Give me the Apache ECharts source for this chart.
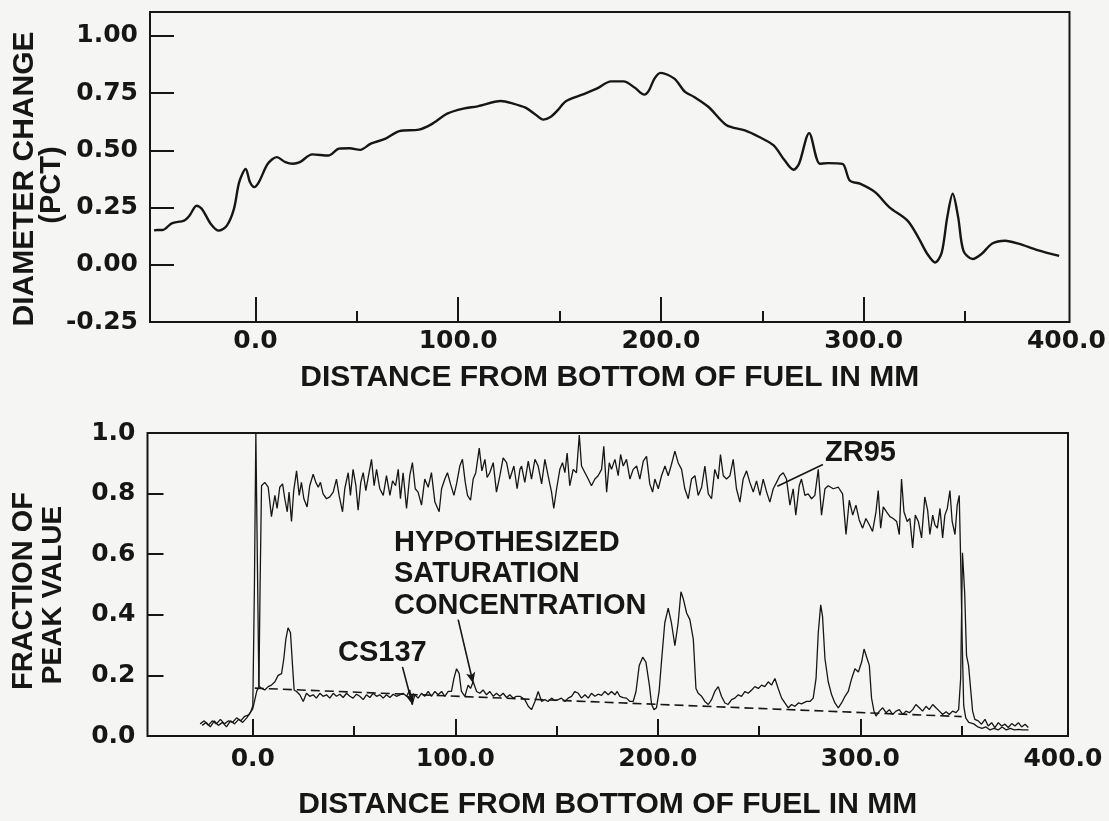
<!DOCTYPE html>
<html>
<head>
<meta charset="utf-8">
<script src="https://cdn.jsdelivr.net/npm/echarts@6/dist/echarts.min.js"></script>
<style>
html,body{margin:0;padding:0;background:#f5f5f3;}
#chart{width:1109px;height:821px;}
</style>
</head>
<body>
<div id="chart"></div>
<script>
// ---------- DATA ----------
// Top panel: diameter change (pct) vs distance from bottom of fuel (mm)
const diameterChange = [
[-50,0.150],[-48.4,0.152],[-45.7,0.152],[-41.3,0.181],[-35.2,0.193],[-32.5,0.215],[-29,0.258],[-26.4,0.244],[-22,0.178],[-18.1,0.149],[-14.1,0.171],[-10.6,0.244],[-8,0.361],[-4.8,0.419],[-2.7,0.361],[-0.6,0.339],[1.7,0.361],[6.1,0.441],[10.5,0.470],[14.8,0.448],[18.4,0.441],[21.9,0.448],[28,0.482],[35.9,0.477],[41.2,0.507],[46.4,0.509],[51.7,0.502],[56.9,0.529],[63.9,0.550],[71,0.584],[80.6,0.590],[86.7,0.613],[94.6,0.660],[102.5,0.682],[109.6,0.692],[121,0.715],[127.1,0.704],[133.2,0.686],[137.6,0.660],[142,0.634],[145.5,0.645],[149,0.674],[153.1,0.714],[161.2,0.743],[168.3,0.769],[175.4,0.801],[181.6,0.801],[187,0.774],[191.8,0.743],[194.1,0.762],[196.8,0.813],[199.8,0.838],[206.6,0.813],[211.9,0.755],[216.4,0.733],[223.5,0.689],[232.4,0.609],[241.4,0.587],[248.5,0.558],[255.6,0.521],[261,0.456],[265.4,0.415],[268.1,0.441],[273.1,0.575],[278.4,0.441],[282.4,0.444],[289.5,0.441],[293.1,0.368],[298.4,0.353],[305.6,0.317],[312.7,0.251],[321.6,0.193],[326.9,0.120],[331.4,0.047],[335.3,0.010],[338.5,0.054],[341.2,0.207],[343.9,0.310],[346.6,0.207],[349.2,0.061],[353.7,0.025],[358.1,0.047],[363.4,0.093],[369.7,0.105],[376.8,0.091],[385.7,0.064],[396.4,0.039]
];

// Bottom panel: ZR95 fraction of peak value
const zr95 = [
[-25,0.035],[-23,0.045],[-21,0.03],[-19,0.05],[-17,0.035],[-15,0.045],[-13,0.03],[-11,0.05],[-9,0.04],[-7,0.055],[-5,0.045],[-3,0.06],[-1.5,0.075],[0,0.09],[1,0.12],[2,0.15],[3,0.16],[3.6,0.5],
[4.3,0.826],[5.9,0.837],[7.6,0.821],[9.2,0.724],[10.9,0.794],[12.0,0.751],[13.3,0.821],[14.7,0.832],[15.8,0.783],[17.0,0.740],[17.9,0.805],[19.1,0.708],[20.2,0.810],[21.6,0.875],[22.9,0.794],[24.0,0.837],[25.2,0.783],[26.8,0.756],[28.1,0.826],[29.8,0.864],[31.1,0.837],[32.3,0.821],[33.4,0.837],[34.7,0.799],[36.4,0.783],[38.0,0.789],[39.7,0.805],[41.3,0.848],[42.6,0.794],[44.3,0.740],[45.4,0.816],[47.1,0.869],[48.2,0.794],[49.5,0.880],[50.9,0.826],[52.0,0.745],[53.3,0.837],[54.5,0.869],[55.8,0.810],[57.4,0.869],[58.6,0.913],[59.9,0.826],[61.1,0.880],[62.7,0.816],[64.4,0.794],[66.0,0.859],[67.7,0.794],[69.0,0.842],[70.5,0.826],[71.8,0.880],[72.9,0.783],[74.2,0.869],[75.9,0.751],[77.5,0.859],[78.8,0.902],[80.2,0.816],[81.6,0.805],[83.3,0.762],[84.9,0.848],[86.6,0.821],[88.2,0.869],[89.9,0.772],[92.0,0.740],[93.2,0.816],[94.8,0.848],[96.1,0.869],[97.6,0.832],[99.3,0.794],[100.6,0.832],[102.2,0.891],[103.5,0.913],[104.9,0.837],[106.0,0.794],[107.5,0.778],[108.8,0.848],[110.1,0.869],[111.8,0.950],[113.1,0.875],[114.6,0.913],[115.7,0.853],[117.0,0.869],[118.7,0.902],[120.3,0.805],[122.0,0.859],[123.6,0.918],[125.3,0.902],[126.9,0.848],[128.9,0.891],[130.5,0.816],[131.9,0.880],
[132.7,0.891],[134.3,0.837],[136.0,0.907],[137.6,0.848],[139.3,0.913],[140.9,0.891],[142.6,0.832],[144.2,0.913],[145.8,0.859],[147.5,0.805],[148.6,0.751],[150.0,0.816],[151.6,0.880],[152.9,0.902],[154.1,0.869],[155.2,0.934],[156.5,0.826],[158.2,0.880],[159.8,0.869],[161.2,0.993],[162.3,0.891],[164.0,0.869],[165.6,0.848],[167.2,0.826],[168.9,0.848],[170.5,0.859],[172.2,0.880],[173.3,0.956],[174.7,0.805],[176.0,0.902],[177.1,0.880],[178.8,0.913],[180.4,0.859],[181.6,0.929],[182.9,0.891],[184.5,0.913],[186.2,0.848],[187.8,0.880],[189.5,0.891],[191.1,0.848],[192.8,0.907],[194.4,0.923],[196.0,0.832],[197.4,0.805],[198.5,0.848],[200.2,0.816],[201.8,0.859],[203.5,0.891],[205.1,0.859],[206.7,0.896],[208.4,0.940],[210.0,0.902],[211.7,0.880],[213.3,0.816],[215.0,0.783],[216.6,0.848],[218.3,0.859],[219.9,0.794],[221.6,0.821],[223.2,0.891],[224.9,0.799],[226.5,0.783],[228.1,0.880],[229.8,0.848],[230.9,0.929],[232.3,0.859],[233.9,0.848],[235.6,0.859],[237.2,0.913],[238.8,0.816],[240.5,0.772],[242.1,0.848],[243.8,0.875],[245.4,0.837],[247.1,0.805],[248.7,0.842],[250.4,0.794],[252.0,0.848],[253.7,0.805],[255.3,0.772],[256.95,0.816],[258.6,0.837],[260.2,0.859],[261.9,0.869],[263.5,0.848],[265.2,0.762],[266.8,0.816],[268.1,0.729],[269.8,0.826],
[270.9,0.848],[272.6,0.794],[274.2,0.799],[275.9,0.783],[277.5,0.794],[279.2,0.880],[280.8,0.729],[282.5,0.816],[284.1,0.826],[286.6,0.816],[289.1,0.821],[291.2,0.799],[292.9,0.665],[294.5,0.778],[296.2,0.729],[297.8,0.762],[299.4,0.713],[301.1,0.686],[302.7,0.718],[304.4,0.697],[306.0,0.675],[307.7,0.740],[308.8,0.810],[310.0,0.686],[311.3,0.756],[312.9,0.740],[314.6,0.724],[316.2,0.718],[317.9,0.708],[319.2,0.665],[320.3,0.848],[321.5,0.740],[323.1,0.708],[324.4,0.718],[325.8,0.621],[327.1,0.729],[328.6,0.708],[330.2,0.654],[331.8,0.789],[333.2,0.745],[334.3,0.665],[335.7,0.729],[336.8,0.697],[338.0,0.686],[339.3,0.751],[340.6,0.654],[341.7,0.729],[342.9,0.751],[344.2,0.810],[345.3,0.708],[346.7,0.665],[347.8,0.762],[348.8,0.794],
[349.6,0.55],[350.3,0.3],[351.0,0.1],[352,0.06],[353.5,0.045],[356,0.04],[358,0.03],[360,0.025],[362,0.03],[364,0.02],[366,0.025],[368,0.02],[370,0.03],[372,0.02],[374,0.025],[376,0.02],[378,0.022],[380,0.02],[383,0.02]
];

// Bottom panel: CS137 fraction of peak value
const cs137 = [
[-26,0.04],[-24,0.05],[-22,0.035],[-20,0.05],[-18,0.04],[-16,0.055],[-14,0.04],[-12,0.05],[-10,0.045],[-8,0.06],[-6,0.05],[-4,0.065],[-2,0.07],[-1,0.08],[0,0.1],[0.8,0.5],[1.5,1.0],[2.3,0.55],[3,0.165],
[4.3,0.157],[5.9,0.152],[7.6,0.163],[9.2,0.168],[10.9,0.179],[12.5,0.2],[14.2,0.206],[15.3,0.255],[16.3,0.319],[17.4,0.357],[18.6,0.341],[19.6,0.233],[20.4,0.152],[21.6,0.147],[23.2,0.136],[24.9,0.114],[26.5,0.141],[28.1,0.131],[29.8,0.136],[31.4,0.125],[33.1,0.141],[34.7,0.131],[36.4,0.136],[38.0,0.125],[39.7,0.141],[41.3,0.131],[43.0,0.138],[44.6,0.127],[46.3,0.141],[47.9,0.131],[49.5,0.125],[51.2,0.138],[52.8,0.131],[54.5,0.12],[56.1,0.136],[57.8,0.127],[59.4,0.141],[61.1,0.131],[62.7,0.136],[64.4,0.125],[66.0,0.136],[67.7,0.127],[69.3,0.138],[70.9,0.131],[72.6,0.136],[74.2,0.141],[75.9,0.131],[77.5,0.152],[78.7,0.104],[80.0,0.136],[81.6,0.125],[83.3,0.141],[84.9,0.131],[86.6,0.147],[88.2,0.131],[89.9,0.147],[91.5,0.136],[93.2,0.147],[94.8,0.131],[96.5,0.147],[98.1,0.147],[99.3,0.19],[100.6,0.222],[101.9,0.206],[103.0,0.147],[104.7,0.131],[106.3,0.168],[107.5,0.157],[108.8,0.179],[110.5,0.147],[112.1,0.141],[113.7,0.152],[115.4,0.136],[117.0,0.147],[118.7,0.131],[120.3,0.141],[122.0,0.131],[123.6,0.141],[125.3,0.127],[126.9,0.136],[128.6,0.125],[130.2,0.131],[131.9,0.131],
[134.3,0.12],[136.0,0.098],[137.6,0.087],[139.3,0.114],[140.9,0.147],[142.6,0.114],[144.2,0.12],[145.8,0.114],[147.5,0.125],[149.1,0.117],[150.8,0.12],[152.4,0.125],[154.1,0.114],[155.7,0.125],[157.4,0.131],[159.0,0.147],[160.7,0.141],[162.3,0.125],[164.0,0.136],[165.6,0.125],[167.2,0.141],[168.9,0.131],[170.5,0.138],[172.2,0.134],[173.8,0.147],[175.5,0.136],[177.1,0.147],[178.8,0.136],[179.9,0.147],[181.2,0.131],[182.9,0.127],[184.5,0.125],[186.2,0.114],[187.8,0.114],[189.2,0.147],[190.8,0.233],[192.5,0.26],[194.1,0.244],[195.8,0.168],[196.9,0.104],[198.1,0.087],[199.3,0.093],[200.6,0.147],[201.9,0.255],[203.4,0.373],[205.1,0.422],[206.7,0.373],[208.4,0.298],[210.0,0.373],[211.4,0.476],[212.5,0.454],[214.2,0.406],[215.8,0.384],[217.5,0.319],[218.8,0.157],[219.9,0.141],[221.6,0.131],[223.2,0.114],[224.9,0.104],[226.5,0.12],[228.1,0.147],[229.8,0.163],[231.4,0.131],[233.1,0.109],[234.7,0.104],[236.4,0.12],[238.0,0.125],[239.7,0.136],[241.3,0.131],[243.0,0.147],[244.6,0.141],[246.3,0.152],[247.9,0.163],[249.6,0.157],[251.2,0.168],[252.8,0.163],[254.5,0.179],[256.1,0.168],[257.8,0.19],[258.6,0.195],[259.4,0.157],[261.1,0.125],[262.7,0.109],[264.4,0.093],[266.0,0.104],[267.7,0.098],[269.4,0.109],
[270.9,0.106],[273.4,0.114],[275.1,0.114],[276.7,0.125],[278.1,0.19],[279.2,0.341],[280.4,0.433],[281.3,0.395],[282.5,0.255],[284.1,0.179],[285.8,0.136],[287.4,0.109],[289.1,0.093],[290.7,0.109],[292.4,0.131],[294.0,0.147],[295.7,0.19],[297.3,0.222],[299.0,0.211],[300.6,0.244],[301.8,0.287],[303.1,0.26],[304.4,0.233],[305.5,0.125],[306.7,0.082],[307.7,0.066],[309.4,0.082],[311.0,0.093],[312.7,0.077],[314.3,0.087],[315.9,0.071],[317.6,0.082],[319.2,0.087],[320.9,0.071],[322.5,0.082],[324.2,0.077],[325.8,0.087],[327.4,0.104],[329.1,0.093],[330.7,0.082],[332.4,0.098],[334.0,0.087],[335.7,0.104],[337.3,0.093],[339.0,0.082],[340.6,0.071],[342.3,0.08],[343.9,0.071],[345.5,0.082],[347.2,0.077],[348.5,0.087],[349.5,0.19],[350.4,0.605],[351.5,0.47],[352.4,0.265],[353.4,0.233],[354.4,0.157],[355.4,0.082],[356.5,0.055],[358.2,0.05],[359.8,0.039],[361.5,0.055],[363.1,0.033],[364.8,0.044],[366.4,0.028],[368.1,0.044],[369.7,0.033],[371.4,0.039],[373.0,0.028],[374.7,0.041],[376.3,0.033],[378.0,0.044],[379.6,0.03],[381.3,0.039],[382.9,0.028]
];

// Hypothesized saturation concentration (straight dashed line)
const saturation = [[1,0.158],[350,0.064]];

// Leader lines for the annotations (data coordinates)
const zrLeader = [[281.5,0.896],[259,0.824]];
const csLeader = [[73.9,0.228],[78.8,0.104]];
const satLeader = [[101.4,0.384],[108.8,0.174]];

// Tick values
const topXLabels = [0,100,200,300,400];
const topXMajor = [0,100,200,300];
const topXMinor = [50,150,250,350];
const topYLabels = [-0.25,0,0.25,0.5,0.75,1.0];
const topYTicks = [0,0.25,0.5,0.75,1.0];
const botXLabels = [0,100,200,300,400];
const botXMajor = [0,100,200,300];
const botXMinor = [50,150,250,350];
const botYLabels = [0,0.2,0.4,0.6,0.8,1.0];
const botYTicks = [0.2,0.4,0.6,0.8];

// ---------- CHART ----------
const INK = '#161616';
const TICKFONT = 'DejaVu Sans';
const TEXTFONT = 'Liberation Sans';
const chart = echarts.init(document.getElementById('chart'), null, {renderer:'canvas'});

function xMain(grid, min, max, labels, major, tickLen, margin, name, gap){
  return {
    type:'value', gridIndex:grid, min:min, max:max, position:'bottom',
    axisLine:{show:false, onZero:false}, splitLine:{show:false},
    axisTick:{show:true, inside:true, length:tickLen, customValues:major, lineStyle:{color:INK,width:2}},
    axisLabel:{show:true, customValues:labels, formatter:v=>v.toFixed(1), color:INK,
      fontFamily:TICKFONT, fontWeight:'bold', fontSize:25, margin:margin},
    name:name, nameLocation:'middle', nameGap:gap,
    nameTextStyle:{color:INK, fontFamily:TEXTFONT, fontWeight:'bold', fontSize:30}
  };
}
function xMinor(grid, min, max, minor, tickLen){
  return {
    type:'value', gridIndex:grid, min:min, max:max, position:'bottom',
    axisLine:{show:false, onZero:false}, splitLine:{show:false}, axisLabel:{show:false},
    axisTick:{show:true, inside:true, length:tickLen, customValues:minor, lineStyle:{color:INK,width:2}}
  };
}
function yAx(grid, min, max, labels, ticks, tickLen, digits){
  return {
    type:'value', gridIndex:grid, min:min, max:max, position:'left',
    axisLine:{show:false, onZero:false}, splitLine:{show:false},
    axisTick:{show:true, inside:true, length:tickLen, customValues:ticks, lineStyle:{color:INK,width:2}},
    axisLabel:{show:true, customValues:labels, formatter:v=>v.toFixed(digits), color:INK,
      fontFamily:TICKFONT, fontWeight:'bold', fontSize:25, margin:12}
  };
}

const option = {
  backgroundColor:'#f5f5f3',
  animation:false,
  grid:[
    {left:150, top:12, width:923, height:310, show:true, borderColor:INK, borderWidth:2, backgroundColor:'transparent'},
    {left:147.5, top:433, width:920.5, height:309, show:true, borderColor:INK, borderWidth:2, backgroundColor:'transparent'}
  ],
  xAxis:[
    xMain(0, -52, 401.5, topXLabels, topXMajor, 25, 7, 'DISTANCE FROM BOTTOM OF FUEL IN MM', 41),
    xMinor(0, -52, 401.5, topXMinor, 11),
    xMain(1, -52, 402.5, botXLabels, botXMajor, 17, 11, 'DISTANCE FROM BOTTOM OF FUEL IN MM', 54),
    xMinor(1, -52, 402.5, botXMinor, 10)
  ],
  yAxis:[
    yAx(0, -0.25, 1.104, topYLabels, topYTicks, 24, 2),
    yAx(1, 0, 1.0, botYLabels, botYTicks, 16, 1)
  ],
  graphic:[
    {type:'text', x:25, y:179, rotation:Math.PI/2, style:{text:'DIAMETER CHANGE', fill:INK, font:'bold 30px "Liberation Sans"', align:'center', verticalAlign:'middle'}},
    {type:'text', x:52, y:185, rotation:Math.PI/2, style:{text:'(PCT)', fill:INK, font:'bold 29px "Liberation Sans"', align:'center', verticalAlign:'middle'}},
    {type:'text', x:24, y:591, rotation:Math.PI/2, style:{text:'FRACTION OF', fill:INK, font:'bold 29px "Liberation Sans"', align:'center', verticalAlign:'middle'}},
    {type:'text', x:53, y:595, rotation:Math.PI/2, style:{text:'PEAK VALUE', fill:INK, font:'bold 28px "Liberation Sans"', align:'center', verticalAlign:'middle'}},
    {type:'text', x:394, y:527, style:{text:'HYPOTHESIZED\nSATURATION\nCONCENTRATION', fill:INK, font:'bold 29px "Liberation Sans"', lineHeight:31.5, align:'left', verticalAlign:'top'}},
    {type:'text', x:338, y:653, style:{text:'CS137', fill:INK, font:'bold 29px "Liberation Sans"', align:'left', verticalAlign:'middle'}},
    {type:'text', x:825, y:452.5, style:{text:'ZR95', fill:INK, font:'bold 29px "Liberation Sans"', align:'left', verticalAlign:'middle'}}
  ],
  series:[
    {type:'line', name:'Diameter change', xAxisIndex:0, yAxisIndex:0, data:diameterChange,
     showSymbol:false, smooth:0.3, lineStyle:{color:INK, width:2.4}},
    {type:'line', name:'ZR95', xAxisIndex:2, yAxisIndex:1, data:zr95,
     showSymbol:false, lineStyle:{color:INK, width:1.3}},
    {type:'line', name:'CS137', xAxisIndex:2, yAxisIndex:1, data:cs137,
     showSymbol:false, lineStyle:{color:INK, width:1.3}},
    {type:'line', name:'Hypothesized saturation concentration', xAxisIndex:2, yAxisIndex:1, data:saturation,
     showSymbol:false, lineStyle:{color:INK, width:1.6, type:[9,5]},
     markLine:{silent:true, symbol:['none','arrow'], symbolSize:[7,11], label:{show:false},
       lineStyle:{color:INK, width:1.6, type:'solid'},
       data:[
         [{coord:zrLeader[0], symbol:'none'},{coord:zrLeader[1], symbol:'none'}],
         [{coord:csLeader[0], symbol:'none'},{coord:csLeader[1]}],
         [{coord:satLeader[0], symbol:'none'},{coord:satLeader[1]}]
       ]}}
  ]
};
chart.setOption(option);
</script>
</body>
</html>
